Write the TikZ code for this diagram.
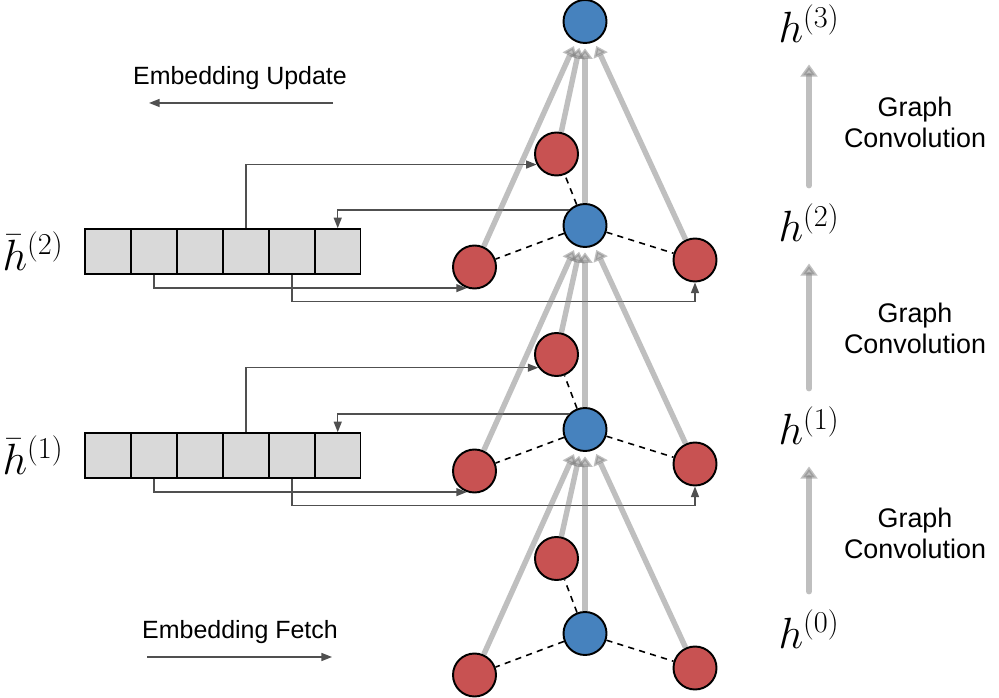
\documentclass[tikz,border=0pt]{standalone}
\usepackage{fontspec}
\setsansfont{Liberation Sans}
\usetikzlibrary{arrows.meta}
\definecolor{hubblue}{RGB}{70,130,190}
\definecolor{nbrred}{RGB}{200,82,82}
\definecolor{cellgray}{RGB}{217,217,217}
\definecolor{linkgray}{RGB}{80,80,80}

\begin{document}
\begin{tikzpicture}[
  font=\sffamily,
  hub/.style={circle,draw,line width=1.1pt,fill=hubblue,minimum size=0.86cm,inner sep=0pt},
  nbr/.style={hub,fill=nbrred},
  cell/.style={draw,line width=0.85pt,fill=cellgray,minimum width=0.919cm,minimum height=0.9cm,inner sep=0pt},
  link/.style={draw=linkgray,line width=0.85pt,-{Triangle[length=6pt,width=4.5pt]}},
  conv/.style={draw=gray,opacity=0.5,line width=3.1pt,-{Triangle[length=6pt,width=8.5pt]},shorten >=2.5pt},
  stage/.style={draw=gray,opacity=0.5,line width=3.4pt,line cap=round,-{Triangle[length=7pt,width=9.5pt]}},
  hlab/.style={font=\fontsize{24}{28}\selectfont,inner sep=0pt,anchor=base},
  emb/.style={font=\sffamily\fontsize{14.2}{17}\selectfont},
  gc/.style={font=\sffamily\fontsize{15.3}{17.6}\selectfont,align=center}
]
\useasboundingbox (0,0) rectangle (19.98,13.94);

\foreach \k/\y/\up in {0/1.27/1.5,1/5.35/1.5,2/9.43/1.43}{
  \node[hub] (b\k) at (11.7,\y) {};
  \node[nbr] (u\k) at (11.13,\y+\up) {};
  \node[nbr] (l\k) at (9.49,\y-0.83) {};
  \node[nbr] (r\k) at (13.9,\y-0.69) {};
  \foreach \s in {u,l,r}
    \draw[dash pattern=on 3.5pt off 3pt,line width=0.9pt] (b\k) -- (\s\k);
}
\node[hub] (b3) at (11.7,13.51) {};

\foreach \k/\y in {1/4.83,2/8.91}{
  \foreach \i in {1,...,6}
    \node[cell] (c\k\i) at (1.7+0.919*\i-0.4595,\y) {};
  \node[font=\fontsize{24}{28}\selectfont,inner sep=0pt] (hb\k) at (0.66,\y) {$\bar{h}^{(\k)}$};
}

\foreach \k/\ua/\ba in {1/216/137,2/208/136}{
  \draw[link] (c\k4.north) |- (u\k.\ua);
  \draw[link] (b\k.\ba) -| (c\k6.north);
  \draw[link] (c\k2.south) |- (l\k.250);
  \draw[link] (c\k5.south) -- ++(0,-0.54) -| (r\k.south);
}

\foreach \k/\n in {0/1,1/2,2/3}
  \foreach \s in {u,l,b,r}
    \draw[conv] (\s\k) -- (b\n);

\foreach \k/\y in {0/0.98,1/5.04,2/9.10,3/13.08}
  \node[hlab] (h\k) at (16.18,\y) {$h^{(\k)}$};
\foreach \k/\n/\y in {0/1/3.27,1/2/7.37,2/3/11.49}{
  \draw[stage,shorten <=10pt,shorten >=12pt] (h\k.north) -- (h\n.south);
  \node[gc] (gc\k) at (18.3,\y) {Graph\\Convolution};
}

\node[emb] (upd) at (4.8,12.38) {Embedding Update};
\coordinate (upd-a) at (6.66,11.88);
\coordinate (upd-b) at (2.98,11.88);
\draw[link] (upd-a) -- (upd-b);
\node[emb] (fet) at (4.8,1.30) {Embedding Fetch};
\coordinate (fet-a) at (2.94,0.80);
\coordinate (fet-b) at (6.64,0.80);
\draw[link] (fet-a) -- (fet-b);
\end{tikzpicture}
\end{document}
